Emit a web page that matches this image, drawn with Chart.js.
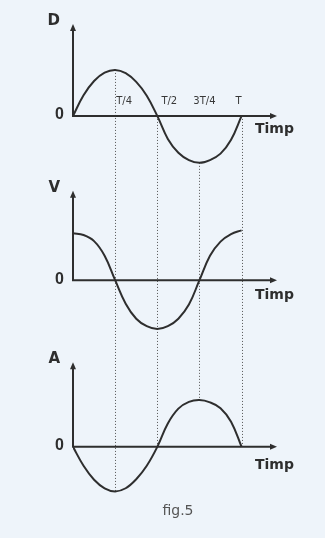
<!DOCTYPE html>
<html lang="ro">
<head>
    <meta charset="UTF-8">
    <title>fig.5 - D, V, A</title>
    <script src="https://cdn.jsdelivr.net/npm/chart.js"></script>
    <style>
        html, body { margin: 0; padding: 0; background: #eef4fa; }
        #wrap { position: relative; width: 325px; height: 538px; }
    </style>
</head>
<body>
<div id="wrap"><canvas id="fig"></canvas></div>

<script>
    // time in units of the period T, every T/16
    const times = [0, 0.0625, 0.125, 0.1875, 0.25, 0.3125, 0.375, 0.4375, 0.5,
                   0.5625, 0.625, 0.6875, 0.75, 0.8125, 0.875, 0.9375, 1];
    // elongatia
    const displacement = [0, 0.45, 0.76, 0.94, 1, 0.93, 0.74, 0.44, 0,
                          -0.5, -0.8, -0.96, -1.02, -0.96, -0.82, -0.52, 0];
    // viteza
    const velocity = [1, 0.96, 0.83, 0.52, 0, -0.5, -0.82, -0.98, -1.04,
                      -0.98, -0.82, -0.52, 0, 0.52, 0.82, 0.98, 1.06];
    // acceleratia
    const acceleration = [0, -0.42, -0.73, -0.92, -0.99, -0.92, -0.72, -0.42, 0,
                          0.52, 0.85, 1.0, 1.04, 0.99, 0.86, 0.56, 0];

    const markTimes = [0.25, 0.5, 0.75, 1];
    const markLabels = ['T/4', 'T/2', '3T/4', 'T'];
    const panelNames = ['D', 'V', 'A'];
    const axisLabel = 'Timp';
    const caption = 'fig.5';

    const ink = '#2e2e2e';

    function pts(values) {
        return times.map((t, i) => ({ x: t, y: values[i] }));
    }

    function arrow(ctx, x, y, dir) {
        ctx.beginPath();
        if (dir === 'up') {
            ctx.moveTo(x, y); ctx.lineTo(x - 3, y + 7); ctx.lineTo(x + 3, y + 7);
        } else {
            ctx.moveTo(x, y); ctx.lineTo(x - 7, y - 3); ctx.lineTo(x - 7, y + 3);
        }
        ctx.closePath();
        ctx.fill();
    }

    // dotted guides at T/4 .. T, from the D curve down to the A curve
    const guides = {
        id: 'guides',
        beforeDatasetsDraw(chart) {
            const { ctx, scales } = chart;
            ctx.save();
            ctx.strokeStyle = '#555';
            ctx.lineWidth = 1;
            ctx.setLineDash([1, 2]);
            markTimes.forEach(t => {
                const i = times.indexOf(t);
                const x = Math.round(scales.x.getPixelForValue(t)) + 0.5;
                ctx.beginPath();
                ctx.moveTo(x, scales.yD.getPixelForValue(displacement[i]));
                ctx.lineTo(x, scales.yA.getPixelForValue(acceleration[i]));
                ctx.stroke();
            });
            ctx.restore();
        },
        afterDraw(chart) {
            const { ctx, scales } = chart;
            const x0 = scales.x.getPixelForValue(0);
            const xEnd = scales.x.getPixelForValue(scales.x.max);
            const panels = [
                { s: scales.yD, top: 2.0, tb: 17 },
                { s: scales.yV, top: 1.9, tb: 19 },
                { s: scales.yA, top: 1.88, tb: 22 }
            ];
            ctx.save();
            ctx.strokeStyle = ink;
            ctx.fillStyle = ink;
            ctx.lineWidth = 2;
            ctx.setLineDash([]);
            panels.forEach((p, k) => {
                const y0 = p.s.getPixelForValue(0);
                const yTop = p.s.getPixelForValue(p.top);
                ctx.beginPath();
                ctx.moveTo(x0, y0);
                ctx.lineTo(x0, yTop + 5);
                ctx.moveTo(x0 - 1, y0);
                ctx.lineTo(xEnd - 5, y0);
                ctx.stroke();
                arrow(ctx, x0, yTop, 'up');
                arrow(ctx, xEnd, y0, 'right');

                ctx.font = 'bold 15px "DejaVu Sans"';
                ctx.textAlign = 'right';
                ctx.textBaseline = 'alphabetic';
                ctx.fillText(panelNames[k], x0 - 13, yTop + 1);
                ctx.font = 'bold 16px "Liberation Sans Narrow", "Liberation Sans"';
                ctx.textBaseline = 'middle';
                ctx.fillText('0', x0 - 9, y0 - 1);
                ctx.font = 'bold 14px "DejaVu Sans"';
                ctx.textAlign = 'left';
                ctx.textBaseline = 'alphabetic';
                ctx.fillText(axisLabel, x0 + 182, y0 + p.tb);
            });

            // period marks above the D axis
            const dx = [9, 12, 5, -3];
            const yLab = scales.yD.getPixelForValue(0) - 12;
            ctx.font = '10px "DejaVu Sans"';
            ctx.textAlign = 'center';
            ctx.fillStyle = '#383838';
            markTimes.forEach((t, i) => {
                ctx.fillText(markLabels[i], scales.x.getPixelForValue(t) + dx[i], yLab);
            });

            ctx.font = '14px "DejaVu Sans"';
            ctx.fillStyle = '#555';
            ctx.fillText(caption, 178, 515);
            ctx.restore();
        }
    };

    const line = (data, axis) => ({
        data: pts(data),
        yAxisID: axis,
        borderColor: ink,
        borderWidth: 2,
        pointRadius: 0,
        tension: 0.4,
        fill: false
    });

    new Chart(document.getElementById('fig'), {
        type: 'line',
        data: {
            datasets: [
                line(displacement, 'yD'),
                line(velocity, 'yV'),
                line(acceleration, 'yA')
            ]
        },
        options: {
            responsive: true,
            maintainAspectRatio: false,
            animation: false,
            layout: { padding: { left: 73, right: 48, top: 23, bottom: 43 } },
            plugins: { legend: { display: false }, tooltip: { enabled: false } },
            scales: {
                x: { type: 'linear', min: 0, max: 1.21, display: false },
                // each panel gets its own y range so the zero lines sit apart
                yD: { min: -8.24, max: 2.02, display: false },
                yV: { min: -4.57, max: 5.47, display: false },
                yA: { min: -1.07, max: 9.42, display: false }
            }
        },
        plugins: [guides]
    });
</script>
</body>
</html>
